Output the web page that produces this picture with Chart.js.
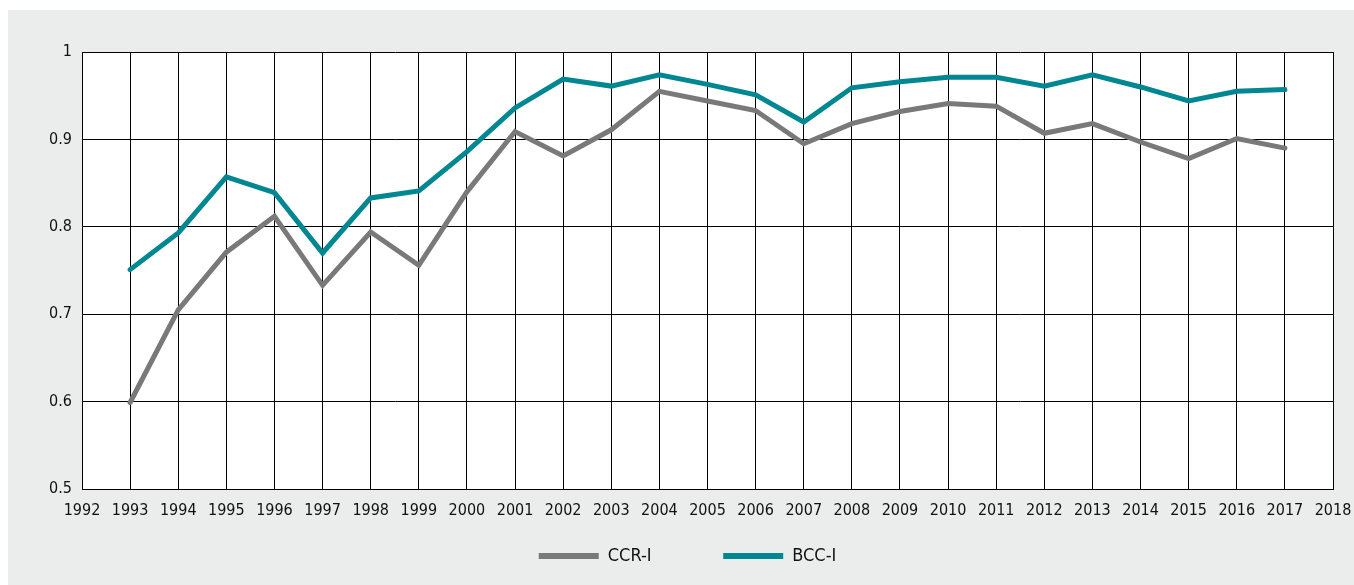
<!DOCTYPE html>
<html>
<head>
<meta charset="utf-8">
<script src="https://cdn.jsdelivr.net/npm/chart.js@4.4.1/dist/chart.umd.min.js"></script>
<style>
  html, body { margin: 0; padding: 0; background: #ffffff; }
  #wrap { position: absolute; left: 8px; top: 10px; width: 1346px; height: 575px; background: #ebeded; }
</style>
</head>
<body>
<div id="wrap"><canvas id="chart" width="1346" height="575"></canvas></div>
<script>
var years = [1993, 1994, 1995, 1996, 1997, 1998, 1999, 2000, 2001, 2002, 2003, 2004, 2005,
             2006, 2007, 2008, 2009, 2010, 2011, 2012, 2013, 2014, 2015, 2016, 2017];
var ccrValues = [0.599, 0.705, 0.771, 0.812, 0.733, 0.794, 0.756, 0.840, 0.909, 0.881, 0.911, 0.955, 0.944,
                 0.933, 0.895, 0.918, 0.932, 0.941, 0.938, 0.907, 0.918, 0.897, 0.878, 0.901, 0.890];
var bccValues = [0.751, 0.793, 0.857, 0.839, 0.770, 0.833, 0.841, 0.886, 0.936, 0.969, 0.961, 0.974, 0.963,
                 0.951, 0.920, 0.959, 0.966, 0.971, 0.971, 0.961, 0.974, 0.960, 0.944, 0.955, 0.957];
var seriesNames = ['CCR-I', 'BCC-I'];
var xMin = 1992, xMax = 2018;
var yMin = 0.5, yMax = 1, yStep = 0.1;

var FONT = "'DejaVu Sans Condensed', 'Liberation Sans', sans-serif";

function toPoints(vals) {
    return years.map(function (y, i) { return { x: y, y: vals[i] }; });
}

// white plot area on the grey card
var plotBg = {
    id: 'plotBg',
    beforeDraw: function (chart) {
        var a = chart.chartArea, c = chart.ctx;
        c.save();
        c.fillStyle = '#ffffff';
        c.fillRect(a.left, a.top, a.right - a.left, a.bottom - a.top);
        c.restore();
    }
};

var ctx = document.getElementById('chart').getContext('2d');
var chart = new Chart(ctx, {
    type: 'line',
    data: {
        datasets: [{
            label: seriesNames[0],
            data: toPoints(ccrValues),
            borderColor: '#797979',
            backgroundColor: '#797979',
            borderWidth: 5,
            borderCapStyle: 'round',
            borderJoinStyle: 'miter',
            pointRadius: 0,
            tension: 0
        }, {
            label: seriesNames[1],
            data: toPoints(bccValues),
            borderColor: '#008792',
            backgroundColor: '#008792',
            borderWidth: 5,
            borderCapStyle: 'round',
            borderJoinStyle: 'miter',
            pointRadius: 0,
            tension: 0
        }]
    },
    options: {
        responsive: false,
        animation: false,
        layout: { padding: { left: 34, right: 21, top: 42, bottom: 10 } },
        scales: {
            x: {
                type: 'linear',
                min: xMin,
                max: xMax,
                grid: { color: '#000000', lineWidth: 1, drawTicks: false },
                border: { color: '#000000', width: 1 },
                ticks: {
                    stepSize: 1,
                    padding: 12,
                    color: '#111111',
                    font: { family: FONT, size: 16 },
                    maxRotation: 0,
                    autoSkip: false,
                    callback: function (v) { return String(v); }
                },
                afterFit: function (scale) {
                    scale.height = 48;
                    scale.paddingLeft = 0;
                    scale.paddingRight = 0;
                }
            },
            y: {
                min: yMin,
                max: yMax,
                grid: { color: '#000000', lineWidth: 1, drawTicks: false },
                border: { color: '#000000', width: 1 },
                ticks: {
                    stepSize: yStep,
                    padding: 10,
                    color: '#111111',
                    font: { family: FONT, size: 16 },
                    callback: function (v) { return String(parseFloat(v.toFixed(1))); }
                },
                afterFit: function (scale) { scale.width = 40; }
            }
        },
        plugins: {
            legend: {
                position: 'bottom',
                labels: {
                    usePointStyle: true,
                    pointStyle: 'line',
                    pointStyleWidth: 60,
                    padding: 10,
                    color: '#111111',
                    font: { family: FONT, size: 18 },
                    generateLabels: function (chart) {
                        var items = Chart.defaults.plugins.legend.labels.generateLabels(chart);
                        items.forEach(function (it, i) {
                            it.pointStyle = 'line';
                            it.lineWidth = 6;
                            // gap between the two legend entries
                            if (i === 0) it.text = it.text + '            ';
                        });
                        return items;
                    }
                }
            },
            tooltip: { enabled: false }
        }
    },
    plugins: [plotBg]
});
</script>
</body>
</html>
